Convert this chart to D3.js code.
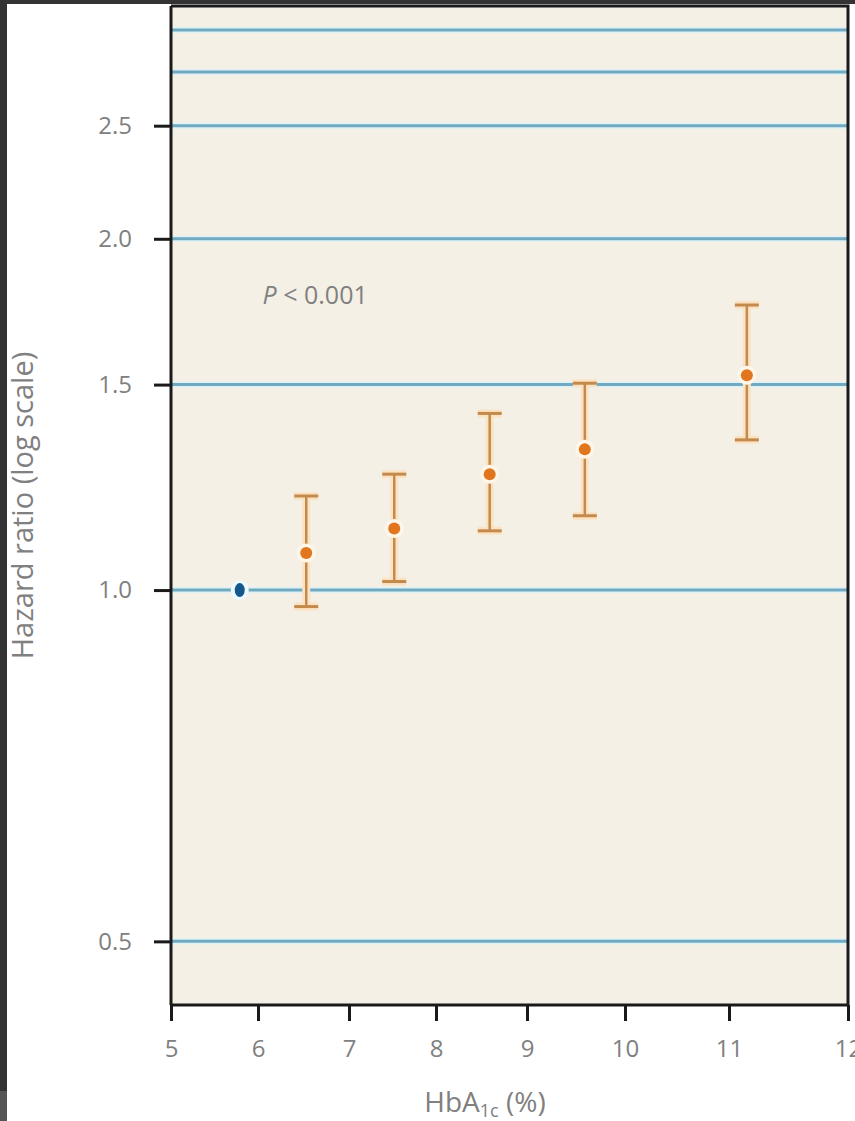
<!DOCTYPE html>
<html>
<head>
<meta charset="utf-8">
<script src="https://cdn.jsdelivr.net/npm/d3@7"></script>
<style>
  body { margin: 0; background: #fff; }
  svg text { font-family: "Open Sans", "DejaVu Sans", sans-serif; fill: #808080; }
</style>
</head>
<body>
<div id="chart"></div>
<script>
// Data
var xTicks = [5, 6, 7, 8, 9, 10, 11, 12];
var yTicks = [0.5, 1.0, 1.5, 2.0, 2.5];
var gridValues = [0.5, 1.0, 1.5, 2.0, 2.5, 2.78, 3.02];
var refPoint = { hba1c: 5.79, hr: 1.0 };
var hba1c = [6.53, 7.52, 8.59, 9.59, 11.15];
var hazard = [1.076, 1.129, 1.257, 1.320, 1.528];
var lower = [0.968, 1.017, 1.124, 1.158, 1.345];
var upper = [1.204, 1.257, 1.417, 1.504, 1.755];
var pLabel = { x: 6.05, y: 1.76 };

// Layout
var svgWidth = 855;
var svgHeight = 1121;
var plot = { left: 171, right: 848, top: 6, bottom: 1005 };
// the printed x axis is not evenly spaced; tick stops as they sit in the figure
var xStops = [171, 258, 349, 436, 527, 625, 729, 848];

var svg = d3.select("#chart")
    .append("svg")
    .attr("width", svgWidth)
    .attr("height", svgHeight);

// dark frame of the scan
svg.append("rect").attr("x", 0).attr("y", 0).attr("width", svgWidth).attr("height", 4).attr("fill", "#333");
svg.append("rect").attr("x", 0).attr("y", 0).attr("width", 7).attr("height", 1091).attr("fill", "#333");
svg.append("rect").attr("x", 0).attr("y", 1091).attr("width", 7).attr("height", 30).attr("fill", "#555");

var x = d3.scaleLinear().domain(xTicks).range(xStops);
var y = d3.scaleLog().domain([0.441, 3.166]).range([plot.bottom, plot.top]);

// plot background
svg.append("rect")
    .attr("x", plot.left)
    .attr("y", plot.top)
    .attr("width", plot.right - plot.left)
    .attr("height", plot.bottom - plot.top)
    .attr("fill", "#f4f0e6");

// gridlines
var grid = svg.append("g");
grid.selectAll("line.halo")
    .data(gridValues)
    .enter()
    .append("line")
    .attr("class", "halo")
    .attr("x1", plot.left).attr("x2", plot.right)
    .attr("y1", d => y(d)).attr("y2", d => y(d))
    .attr("stroke", "#dcf2f6")
    .attr("stroke-width", 6);
grid.selectAll("line.main")
    .data(gridValues)
    .enter()
    .append("line")
    .attr("class", "main")
    .attr("x1", plot.left).attr("x2", plot.right)
    .attr("y1", d => y(d)).attr("y2", d => y(d))
    .attr("stroke", "#70a9c0")
    .attr("stroke-width", 3);

// top and right frame
svg.append("path")
    .attr("d", `M${plot.left},${plot.top}H${plot.right}V${plot.bottom}`)
    .attr("fill", "none")
    .attr("stroke", "#1a1a1a")
    .attr("stroke-width", 3);

// axes
var bottomAxis = d3.axisBottom(x)
    .tickValues(xTicks)
    .tickFormat(d3.format("d"))
    .tickSizeInner(16)
    .tickSizeOuter(0)
    .tickPadding(19);
var leftAxis = d3.axisLeft(y)
    .tickValues(yTicks)
    .tickFormat(d3.format(".1f"))
    .tickSizeInner(17)
    .tickSizeOuter(0)
    .tickPadding(22);

var xAxis = svg.append("g")
    .attr("transform", `translate(0, ${plot.bottom})`)
    .call(bottomAxis);
var yAxis = svg.append("g")
    .attr("transform", `translate(${plot.left}, 0)`)
    .call(leftAxis);

[xAxis, yAxis].forEach(function(ax) {
    ax.select(".domain").attr("stroke", "#1a1a1a").attr("stroke-width", 3);
    ax.selectAll(".tick line").attr("stroke", "#1a1a1a").attr("stroke-width", 3);
    ax.selectAll(".tick text")
        .attr("fill", "#808080")
        .style("font-size", "24px")
        .style("font-family", "'Open Sans', 'DejaVu Sans', sans-serif");
});
xAxis.select(".domain").attr("d", `M${plot.left},0H${plot.right}`);
yAxis.select(".domain").attr("d", `M0,${plot.bottom}V${plot.top}`);

// axis titles
svg.append("text")
    .attr("transform", `translate(33, ${(plot.top + plot.bottom) / 2}) rotate(-90)`)
    .attr("text-anchor", "middle")
    .style("font-size", "29px")
    .text("Hazard ratio (log scale)");

var xTitle = svg.append("text")
    .attr("x", 485)
    .attr("y", 1112)
    .attr("text-anchor", "middle")
    .style("font-size", "28px");
xTitle.append("tspan").text("HbA");
xTitle.append("tspan").attr("dy", 5).style("font-size", "18px").text("1c");
xTitle.append("tspan").attr("dy", -5).text(" (%)");

// P value
var pText = svg.append("text")
    .attr("x", x(pLabel.x))
    .attr("y", y(pLabel.y))
    .style("font-size", "25px");
pText.append("tspan").style("font-style", "italic").text("P");
pText.append("tspan").text(" < 0.001");

// error bars
var rows = hba1c.map(function(v, i) {
    return { x: v, hr: hazard[i], lo: lower[i], hi: upper[i] };
});
var capHalf = 12;
var bars = svg.append("g").selectAll("g")
    .data(rows)
    .enter()
    .append("g");

bars.append("path")
    .attr("d", d => `M${x(d.x)},${y(d.lo)}V${y(d.hi)}M${x(d.x) - capHalf},${y(d.lo)}H${x(d.x) + capHalf}M${x(d.x) - capHalf},${y(d.hi)}H${x(d.x) + capHalf}`)
    .attr("fill", "none")
    .attr("stroke", "#fbe2c2")
    .attr("stroke-width", 8);
bars.append("line")
    .attr("x1", d => x(d.x)).attr("x2", d => x(d.x))
    .attr("y1", d => y(d.lo)).attr("y2", d => y(d.hi))
    .attr("stroke", "#c48a4c")
    .attr("stroke-width", 2.5);
bars.selectAll("line.cap")
    .data(d => [{ x: d.x, v: d.lo }, { x: d.x, v: d.hi }])
    .enter()
    .append("line")
    .attr("class", "cap")
    .attr("x1", d => x(d.x) - capHalf).attr("x2", d => x(d.x) + capHalf)
    .attr("y1", d => y(d.v)).attr("y2", d => y(d.v))
    .attr("stroke", "#c48a4c")
    .attr("stroke-width", 3);
bars.append("circle")
    .attr("cx", d => x(d.x))
    .attr("cy", d => y(d.hr))
    .attr("r", 9.5)
    .attr("fill", "#fff6ea");
bars.append("circle")
    .attr("cx", d => x(d.x))
    .attr("cy", d => y(d.hr))
    .attr("r", 6)
    .attr("fill", "#e2761e");

// reference group
svg.append("ellipse")
    .attr("cx", x(refPoint.hba1c))
    .attr("cy", y(refPoint.hr))
    .attr("rx", 9)
    .attr("ry", 10)
    .attr("fill", "#eefaff");
svg.append("ellipse")
    .attr("cx", x(refPoint.hba1c))
    .attr("cy", y(refPoint.hr))
    .attr("rx", 5)
    .attr("ry", 7)
    .attr("fill", "#14578a");
</script>
</body>
</html>
